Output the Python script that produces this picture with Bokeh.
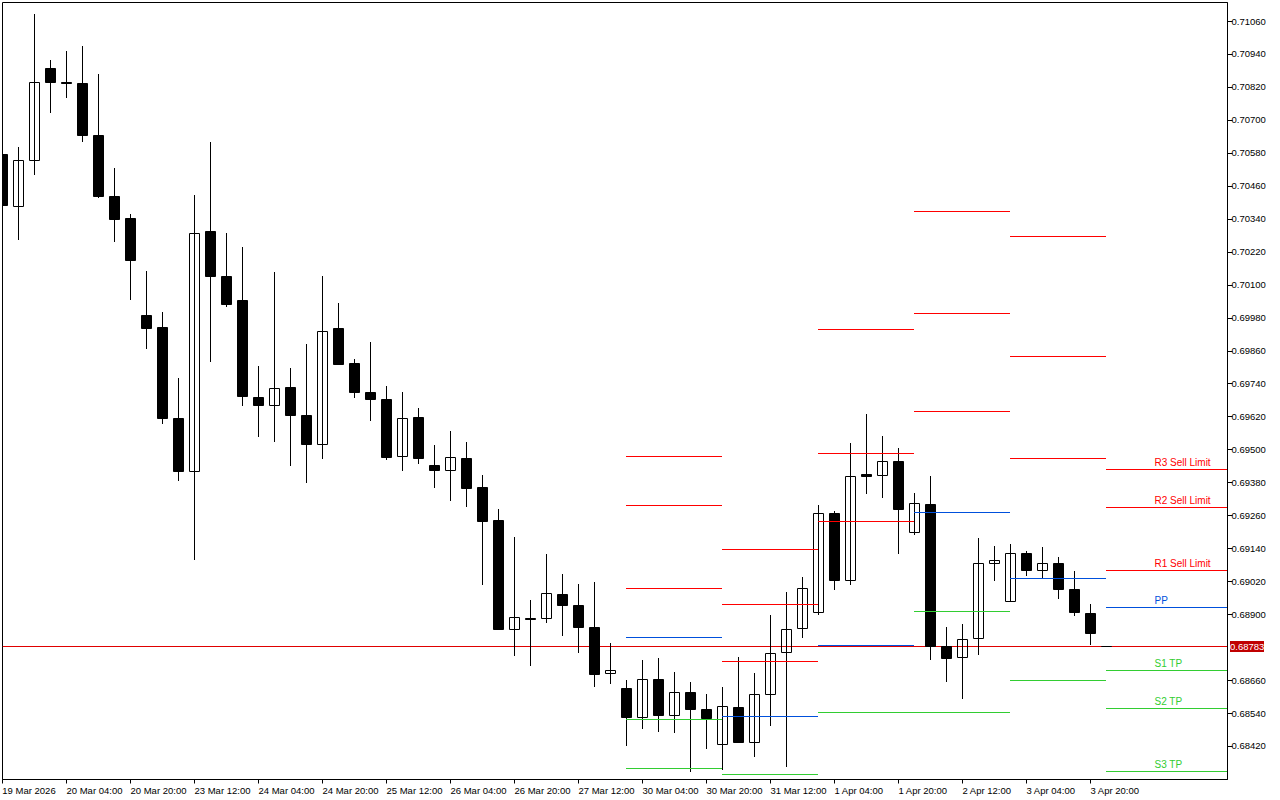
from bokeh.plotting import figure
from bokeh.models import (ColumnDataSource, Div, FixedTicker, LabelSet, LinearAxis, Range1d)
from bokeh.embed import file_html
from bokeh.resources import INLINE
from bokeh.core.properties import value
import numpy as np

# prices in points (1 point = 0.00001)
open_pts = [70576,70386,70554,70889,70838,70834,70645,70423,70343,69989,69946,69614,69421,70295,70131,70044,69691,69662,69727,69625,69520,69942,69815,69709,69684,69476,69618,69443,69425,69469,69363,69243,68846,68886,68886,68974,68933,68853,68686,68631,68526,68664,68533,68617,68555,68427,68562,68435,68609,68762,68850,68908,69268,69024,69410,69407,69458,69199,69301,68784,68744,68813,69086,68948,69123,69061,69086,68992,68904,68784]
close_pts = [70390,70554,70838,70838,70834,70645,70423,70339,70190,69942,69614,69421,70288,70131,70029,69694,69662,69724,69625,69520,69931,69811,69709,69684,69472,69614,69469,69425,69472,69359,69239,68846,68890,68882,68977,68933,68853,68682,68697,68526,68664,68533,68617,68555,68522,68566,68435,68609,68759,68846,68995,69268,69024,69403,69403,69458,69283,69305,68784,68740,68810,69086,69097,69123,69061,69086,68992,68908,68831,68784]
high_pts = [70578,70603,71087,70920,70953,70971,70869,70527,70359,70151,70002,69762,70428,70621,70290,70239,69806,70148,69798,69886,70133,70035,69831,69893,69733,69711,69653,69518,69569,69529,69409,69285,69183,68953,69121,69048,69012,69019,68797,68662,68735,68742,68691,68655,68611,68637,68746,68688,68899,68983,69037,69299,69278,69525,69631,69551,69507,69343,69405,68855,68866,69179,69150,69157,69132,69146,69110,69059,68939,68786]
low_pts = [70388,70264,70501,70727,70781,70621,70417,70257,70046,69867,69594,69387,69099,69820,70020,69660,69547,69529,69441,69379,69467,69809,69689,69605,69463,69423,69449,69361,69314,69292,69008,68844,68750,68713,68870,68822,68760,68637,68648,68422,68484,68473,68469,68327,68411,68334,68433,68382,68495,68345,68815,68899,68990,69008,69339,69325,69121,69190,68735,68655,68593,68753,69023,68946,69041,69034,68957,68895,68790,68782]

period_start = [39, 45, 51, 57, 63, 69]
period_end = [45, 51, 57, 63, 69, 76.5625]
resist_pts = [[69476,69298,68995],[69137,68937,68730],[69938,69487,69239],[70368,69997,69640],[70277,69840,69469],[69429,69290,69061]]
pivot_pts = [68817, 68529, 68788, 69272, 69032, 68926]
support_pts = [[68518,68340],[68318],[68544],[68912,68544],[68660],[68697,68558,68329]]
level_names = ["R3 Sell Limit","R2 Sell Limit","R1 Sell Limit","PP","S1 TP","S2 TP","S3 TP"]

current_price = 0.68783
price_ticks = [0.71060,0.70940,0.70820,0.70700,0.70580,0.70460,0.70340,0.70220,0.70100,0.69980,0.69860,0.69740,0.69620,0.69500,0.69380,0.69260,0.69140,0.69020,0.68900,0.68660,0.68540,0.68420]
price_tick_labels = ["%.5f" % t for t in price_ticks]
time_tick_index = [0,4,8,12,16,20,24,28,32,36,40,44,48,52,56,60,64,68]
time_tick_labels = ["19 Mar 2026","20 Mar 04:00","20 Mar 20:00","23 Mar 12:00","24 Mar 04:00","24 Mar 20:00","25 Mar 12:00","26 Mar 04:00","26 Mar 20:00","27 Mar 12:00","30 Mar 04:00","30 Mar 20:00","31 Mar 12:00","1 Apr 04:00","1 Apr 20:00","2 Apr 12:00","3 Apr 04:00","3 Apr 20:00"]

FONT = "Liberation Sans"
RED, BLUE, GREEN, PRICE = "#FF0000", "#0050DC", "#32CD32", "#E00000"

# one candle is 16 px wide; the price scale runs 27462 px per unit
PX_X, PX_Y = 16.0, 27462.0
X0, X1 = 0.0, 1225 / PX_X
Y1 = 0.7106 + 19 / PX_Y
Y0 = Y1 - 777 / PX_Y

def snap(v, half=False):
    """Put a price on the pixel grid, as the terminal draws it."""
    d = half * 0.5
    return Y1 - (np.round((Y1 - np.asarray(v)) * PX_Y - d) + d) / PX_Y

o, c, h, l = [np.array(a) / 1e5 for a in (open_pts, close_pts, high_pts, low_pts)]
idx = np.arange(len(o))
up = c >= o
o_s, c_s, h_s, l_s = snap(o), snap(c), snap(h, True), snap(l, True)

p = figure(width=1280, height=800, output_backend="svg", toolbar_location=None,
           x_range=Range1d(X0, X1), y_range=Range1d(Y0, Y1), y_axis_location=None,
           x_axis_location="below", min_border_left=2, min_border_top=2,
           min_border_right=53, min_border_bottom=21)
p.styles = {"position": "absolute", "left": "0px", "top": "0px"}
p.grid.visible = False
p.outline_line_color = "black"
p.background_fill_color = "white"
p.border_fill_color = "white"

# time labels read from their left edge, so each is centred half its width past its tick
label_px = [53 if t.endswith("2026") else 56 if "Mar" in t else 49 for t in time_tick_labels]
label_at = [i + w / 2 / PX_X for i, w in zip(time_tick_index, label_px)]
xa = p.xaxis[0]
xa.ticker = FixedTicker(ticks=label_at, minor_ticks=time_tick_index)
xa.major_label_overrides = dict(zip(label_at, time_tick_labels))
xa.major_tick_in = 0
xa.major_tick_out = 4
xa.major_tick_line_color = None
xa.minor_tick_in = 0
xa.minor_tick_out = 4
xa.minor_tick_line_color = "black"
xa.major_label_standoff = 1
xa.major_label_text_font = FONT
xa.major_label_text_font_size = "9.5px"
xa.major_label_text_color = "black"
xa.axis_line_color = "black"

ya = LinearAxis(ticker=FixedTicker(ticks=price_ticks),
                major_label_overrides=dict(zip(price_ticks, price_tick_labels)))
ya.major_tick_in = 0
ya.major_tick_out = 5
ya.minor_tick_line_color = None
ya.major_label_standoff = -1
ya.major_label_text_font = FONT
ya.major_label_text_font_size = "9.5px"
ya.major_label_text_color = "black"
ya.axis_line_color = "black"
ya.major_tick_line_color = "black"
p.add_layout(ya, "right")

src_up = ColumnDataSource(dict(x=idx[up], top=c_s[up], bottom=o_s[up]))
src_dn = ColumnDataSource(dict(x=idx[~up], top=o_s[~up], bottom=c_s[~up]))
BW = 10 / PX_X

# white bodies fill, then the price line, then wicks and outlines
p.vbar(x="x", top="top", bottom="bottom", width=BW, source=src_up, fill_color="white", line_color=None)
p.segment(x0=[X0], x1=[X1], y0=snap([current_price]), y1=snap([current_price]), line_color=PRICE, line_width=1)
p.segment(x0=idx, x1=idx, y0=l_s, y1=h_s, line_color="black", line_width=1)
p.vbar(x="x", top="top", bottom="bottom", width=BW, source=src_up, fill_color=None, line_color="black", line_width=1)
p.vbar(x="x", top="top", bottom="bottom", width=BW, source=src_dn, fill_color="black", line_color="black", line_width=1)

def draw_levels(rows, color):
    xs0, xs1, ys = [], [], []
    for s, e, r in zip(period_start, period_end, rows):
        for v in r:
            xs0.append(s - 0.5 / PX_X); xs1.append(e - 0.5 / PX_X); ys.append(v / 1e5)
    ys = snap(ys)
    p.segment(x0=xs0, x1=xs1, y0=ys, y1=ys, line_color=color, line_width=1)

draw_levels(resist_pts, RED)
draw_levels([[v] for v in pivot_pts], BLUE)
draw_levels(support_pts, GREEN)

# level names on the last period
last = resist_pts[-1] + [pivot_pts[-1]] + support_pts[-1]
colors = [RED] * 3 + [BLUE] + [GREEN] * 3
p.add_layout(LabelSet(x="x", y="y", text="t", text_color="c", source=ColumnDataSource(dict(
    x=[72] * 7, y=[v / 1e5 for v in last], t=level_names, c=colors)),
    y_offset=7, text_align="left", text_baseline="middle",
    text_font=value(FONT), text_font_size=value("10px")))

# current price tag, floating over the price scale
tag = Div(text="%.5f" % current_price, width=39, height=11, margin=0, styles={
    "position": "absolute", "left": "1230px", "top": "641px", "z-index": "10",
    "background-color": "#C00000", "color": "white", "font-family": FONT,
    "font-size": "9.5px", "line-height": "11px", "text-align": "center"})
p.elements = [tag]

open("out.html", "w").write(file_html(p, INLINE))
